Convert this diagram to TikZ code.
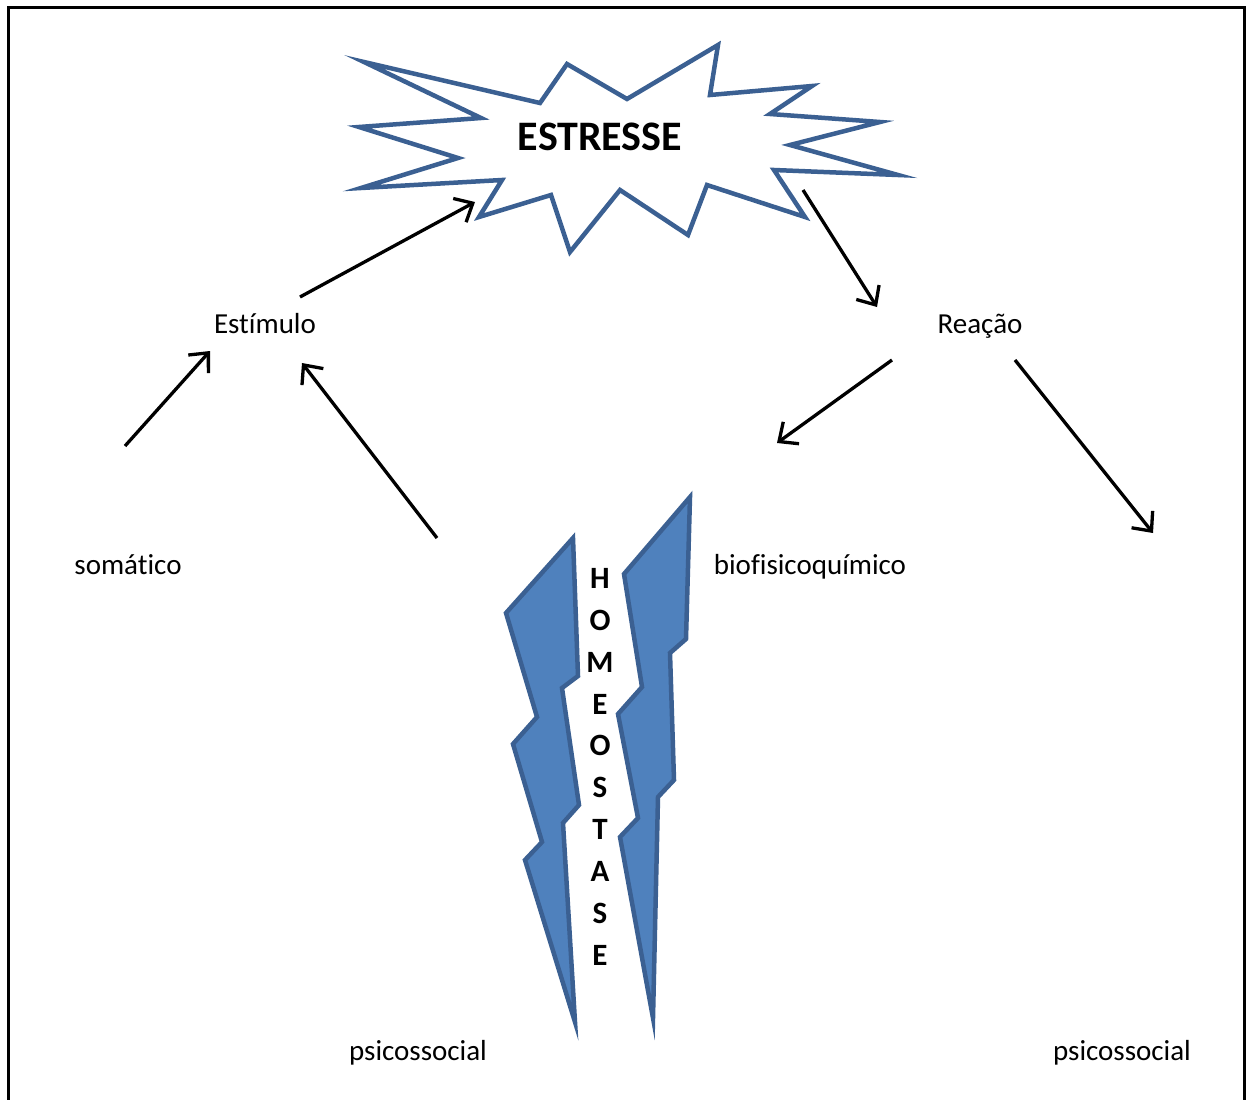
\documentclass[tikz,border=0pt]{standalone}
\usepackage{fontspec}
\setmainfont{Carlito}[Ligatures=NoCommon]
\usetikzlibrary{arrows.meta}
\definecolor{bolt}{HTML}{4F81BD}
\definecolor{boltline}{HTML}{3B6092}
\tikzset{
  label/.style={inner sep=0pt, anchor=base, font=\fontsize{29}{34}\selectfont},
  arrowline/.style={line width=3.3pt, -{Straight Barb[length=15pt,width=27pt,line width=3.3pt]}},
  boltshape/.style={fill=bolt, draw=boltline, line width=4.5pt, line join=miter},
}
\begin{document}
\begin{tikzpicture}[x=1pt,y=-1pt]
\useasboundingbox (0,0) rectangle (1248,1100);
% frame, open at the bottom
\draw[line width=3pt] (8,1102) -- (8,7) -- (1244,7) -- (1244,1102);

% explosion shape
\draw[draw=boltline, line width=4.5pt, fill=white, line join=miter]
  (364,62) -- (540,103) -- (567,64) -- (627,99) -- (718,45) -- (710,95)
  -- (812,86) -- (770,114) -- (880,122) -- (790,145) -- (898,175)
  -- (774,170) -- (805,217) -- (707,185) -- (688,235) -- (620,190)
  -- (570,252) -- (551,195) -- (479,217) -- (502,180) -- (361,188)
  -- (458,158) -- (359,127) -- (481,118) -- cycle;
\node[inner sep=0pt, anchor=base, font=\fontsize{42}{48}\selectfont\bfseries] (stress) at (600,150) {ESTRESSE};

% lightning bolts
\draw[boltshape] (573,538) -- (578,676) -- (562,688) -- (579,805) -- (563,823)
  -- (575,1022) -- (525,860) -- (542,842) -- (513,744) -- (537,717)
  -- (506,613) -- cycle;
\draw[boltshape] (690,497) -- (686,639) -- (670,653) -- (674,780) -- (658,797)
  -- (653,1018) -- (620,837) -- (638,818) -- (618,714) -- (642,687)
  -- (624,574) -- cycle;
\node[inner sep=0pt, align=center, font=\fontsize{31}{41.9}\selectfont\bfseries, anchor=north]
  (homeo) at (600,568) {H\\O\\M\\E\\O\\S\\T\\A\\S\\E};

% labels
\node[label] (estimulo) at (265,333) {Estímulo};
\node[label] (reacao) at (980,333) {Reação};
\node[label] (somatico) at (128,574) {somático};
\node[label] (bio) at (810,574) {biofisicoquímico};
\node[label] (psico1) at (418,1060) {psicossocial};
\node[label] (psico2) at (1122,1060) {psicossocial};

% connector end points
\coordinate (a1s) at (125,446);  \coordinate (a1e) at (210,351);
\coordinate (a2s) at (437,538);  \coordinate (a2e) at (302,363);
\coordinate (a3s) at (300,297);  \coordinate (a3e) at (475,202);
\coordinate (a4s) at (803,190);  \coordinate (a4e) at (877,307);
\coordinate (a5s) at (892,360);  \coordinate (a5e) at (777,443);
\coordinate (a6s) at (1015,360); \coordinate (a6e) at (1153,533);

\draw[arrowline] (a1s) -- (a1e);
\draw[arrowline] (a2s) -- (a2e);
\draw[arrowline] (a3s) -- (a3e);
\draw[arrowline] (a4s) -- (a4e);
\draw[arrowline] (a5s) -- (a5e);
\draw[arrowline] (a6s) -- (a6e);
\end{tikzpicture}
\end{document}
